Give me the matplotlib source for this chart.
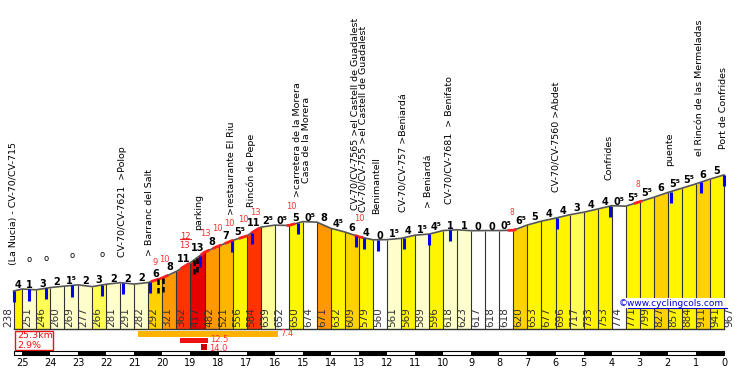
import matplotlib.pyplot as plt
import numpy as np

# profile data: distance to the top (km) and altitude (m)
km = [25.3, 25.0, 24.5, 24.0, 23.5, 23.0, 22.5, 22.0, 21.5, 21.0, 20.5, 20.0, 19.5,
      19.0, 18.5, 18.0, 17.5, 17.0, 16.5, 16.0, 15.5, 15.0, 14.5, 14.0, 13.5, 13.0,
      12.5, 12.0, 11.5, 11.0, 10.5, 10.0, 9.5, 9.0, 8.5, 8.0, 7.5, 7.0, 6.5, 6.0,
      5.5, 5.0, 4.5, 4.0, 3.5, 3.0, 2.5, 2.0, 1.5, 1.0, 0.5, 0.0]
elev = [238, 251, 246, 260, 269, 277, 266, 281, 291, 282, 292, 321, 362, 417, 482,
        521, 556, 584, 639, 652, 650, 674, 671, 632, 609, 579, 560, 561, 569, 589,
        596, 618, 623, 617, 618, 618, 620, 653, 677, 696, 717, 733, 753, 774, 771,
        799, 827, 857, 884, 911, 941, 967]
grad_labels = ["4", "1", "3", "2", "1⁵", "2", "3", "2", "2", "2", "6", "8", "11", "13",
               "8", "7", "5⁵", "11", "2⁵", "0⁵", "5", "0⁵", "8", "4⁵", "6", "4", "0",
               "1⁵", "4", "1⁵", "4⁵", "1", "1", "0", "0", "0⁵", "6⁵", "5", "4", "4",
               "3", "4", "4", "0⁵", "5⁵", "5⁵", "6", "5⁵", "5⁵", "6", "5"]

# named places (km, name)
places = [(25.27, "(La Nucia) - CV-70/CV-715"), (21.4, "CV-70/CV-7621  >Polop"),
          (20.44, "> Barranc del Salt"), (18.66, "parking"),
          (17.52, ">restaurante El Riu"), (16.81, "Rincón de Pepe"),
          (15.17, ">carretera de la Morera\nCasa de la Morera"),
          (13.1, "CV-70/CV-7565 >el Castell de Guadalest"),
          (12.82, "CV-70/CV-755 >el Castell de Guadalest"), (12.32, "Benimantell"),
          (11.4, "CV-70/CV-757 >Beniardá"), (10.5, "> Beniardá"),
          (9.76, "CV-70/CV-7681  > Benifato"), (5.95, "CV-70/CV-7560 >Abdet"),
          (4.06, "Confrides"), (1.89, "puente"), (0.82, "el Rincón de las Mermeladas"),
          (0.0, "Port de Confrides")]
unnamed = [24.75, 24.15, 23.22, 22.15]

# steepest 100 m stretches
max_km = [20.26, 19.94, 18.48, 18.06, 17.63, 17.13, 16.7, 15.42, 13.0, 7.55, 3.06]
max_val = ["9", "10", "13", "10", "10", "10", "13", "10", "10", "8", "8"]
steep_km = [20.16, 19.98, 18.87, 18.76]

# climb summary bars (start km, end km, gradient)
bar_start = [20.87, 19.37, 18.63]
bar_end = [15.88, 18.38, 18.41]
bar_val = ["7.4", "12.5", "14.0"]
bar_cols = ['#FFB300', '#EE1111', '#CC0000']

km = np.array(km)
elev = np.array(elev)

# pixel helpers
X0, SX, Y0, SY = 22, 28.08, 329, 0.1593
def px(p): return 25 - (p - X0) / SX
def py(p): return (Y0 - p) / SY
def alt(k): return np.interp(k, km[::-1], elev[::-1])

def seg_color(g):
    g = abs(g)
    if g < 1: return '#FFFFFF'
    if g < 2.5: return '#FFFFCC'
    if g < 2.7: return '#FFFF99'
    if g < 3.5: return '#FFFF55'
    if g < 5.7: return '#FFF500'
    if g < 6.9: return '#FFD200'
    if g < 7.5: return '#FFB400'
    if g < 10: return '#FF9900'
    if g < 12: return '#FF3300'
    return '#E60000'

fig = plt.figure(figsize=(7.39, 3.69), dpi=100)
ax = fig.add_axes([0, 0, 1, 1])
ax.set_xlim(px(0), px(739))
ax.set_ylim(py(369), py(0))
ax.axis('off')

for i in range(len(km) - 1):
    g = (elev[i + 1] - elev[i]) / (km[i] - km[i + 1]) / 10
    ax.fill_between([km[i], km[i + 1]], [elev[i], elev[i + 1]], 0,
                    color=seg_color(g), lw=0)
    ax.annotate(grad_labels[i], ((km[i] + km[i + 1]) / 2, max(elev[i], elev[i + 1])),
                xytext=(0, -1), textcoords='offset pixels', ha='center', va='bottom',
                fontsize=7, fontweight='bold')

ax.vlines(km, 0, elev, color='#333333', lw=0.8)
ax.plot(km, elev, color='#555555', lw=1.2)
ax.plot([km[0], km[-1]], [0, 0], color='#333333', lw=1)

# red highlights of steep bits on the profile
for k in max_km + [19.2]:
    kk = np.linspace(k + 0.15, k - 0.15, 10)
    ax.plot(kk, alt(kk), color='#FF2020', lw=2, solid_capstyle='butt')

for k in steep_km:
    a = alt(k)
    ax.plot([k, k], [a, a - 95], color='black', lw=1.8, ls=(0, (2.2, 1.2)))

# altitude labels
for i, (k, e) in enumerate(zip(km, elev)):
    ax.text(k, 12, str(e), rotation=90, ha='right' if i == 0 else 'left', va='bottom',
            fontsize=7.5, color='#333333')

# place markers and names
for k, name in places:
    a = alt(k)
    ax.plot([k, k], [a, a - 70], color='#0000EE', lw=2.2, solid_capstyle='butt')
    dx = 4 if "\n" in name else -1
    ax.annotate(name, (k, a), xytext=(dx, 26), textcoords='offset pixels', rotation=90,
                ha='center', va='bottom', fontsize=6.8, linespacing=1.0)
for k in unnamed:
    a = alt(k)
    ax.plot([k, k], [a, a - 70], color='#0000EE', lw=2.2, solid_capstyle='butt')
    ax.annotate("o", (k, a), xytext=(0, 30), textcoords='offset pixels',
                ha='center', va='center', fontsize=6)

for k, v in zip(max_km, max_val):
    ax.annotate(v, (k, alt(k)), xytext=(0, 18), textcoords='offset pixels',
                ha='center', va='center', fontsize=6 if v != "8" else 5.5, color='#FF3333')
a = alt(19.2)
ax.annotate("12", (19.2, a), xytext=(0, 30), textcoords='offset pixels',
            ha='center', va='center', fontsize=6, color='#EE2222')
ax.annotate("13", (19.2, a), xytext=(0, 21), textcoords='offset pixels',
            ha='center', va='center', fontsize=6, color='#EE2222')
ax.plot([px(180), px(191)], [py(239), py(239)], color='#EE2222', lw=0.8)

# climb summary
label_y = [334, 339.5, 348.5]
for s, e, v, c, (y0, y1), ly in zip(bar_start, bar_end, bar_val, bar_cols,
                                    [(331, 337), (338, 343), (344, 350)], label_y):
    ax.fill_between([s, e], py(y1), py(y0), color=c, lw=0)
    ax.text(e - 2.5 / SX, py(ly), v, ha='left', va='center',
            fontsize=6, color='#FF3333')

ax.add_patch(plt.Rectangle((px(15), py(350)), px(53) - px(15), py(331) - py(350),
                           fill=False, ec='#EE1111', lw=1))
ax.text(px(17), py(336), "25.3km", ha='left', va='center', fontsize=6.8, color='#EE1111')
ax.text(px(17), py(345), "2.9%", ha='left', va='center', fontsize=6.8, color='#EE1111')

# km scale
ax.add_patch(plt.Rectangle((km[-1], py(355)), km[0] - km[-1], py(351) - py(355),
                           fc='white', ec='black', lw=0.8))
for k in range(0, 25, 2):
    ax.fill_between([k + 1, k], py(355), py(351), color='black', lw=0)
for k in range(26):
    ax.text(k, py(363), str(k), ha='center', va='center', fontsize=7)

ax.text(px(619), py(303), "©www.cyclingcols.com", ha='left', va='center', fontsize=6.5,
        color='#0000DD', bbox=dict(fc='white', ec='none', pad=0.5))
ax.plot([px(628), px(727)], [py(308), py(308)], color='#0000DD', lw=0.8)

fig.savefig('out.png', dpi=100)
